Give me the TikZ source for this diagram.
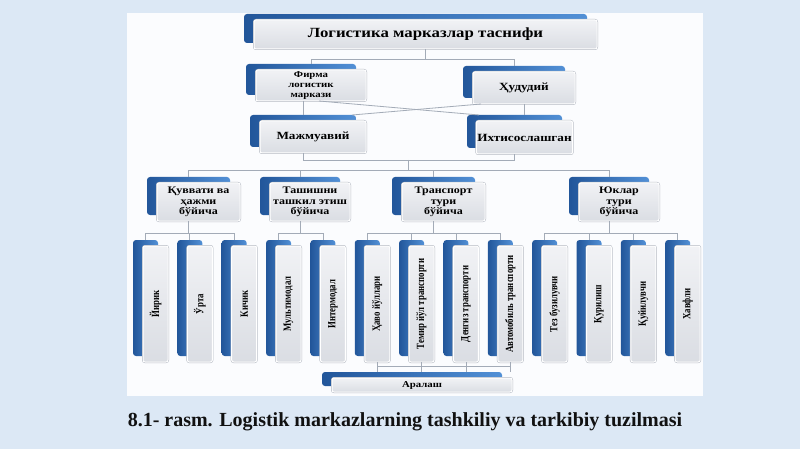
\documentclass[tikz,border=0pt]{standalone}
\usepackage{fontspec}
\setmainfont{Liberation Serif}
\newfontfamily\boxfont[FakeStretch=1.2]{Liberation Serif}
\newfontfamily\vfont[FakeStretch=0.8]{Liberation Serif}
\usetikzlibrary{calc}
\definecolor{pagebg}{HTML}{DCE8F5}
\definecolor{panelc}{HTML}{FBFCFE}
\definecolor{bkdark}{HTML}{22569A}
\definecolor{bklight}{HTML}{5290D6}
\definecolor{frtop}{HTML}{F1F2F5}
\definecolor{frbot}{HTML}{DADDE3}
\definecolor{frline}{HTML}{B4B9C2}
\definecolor{connc}{HTML}{A3ABB7}
\definecolor{captc}{HTML}{111111}
\newcommand\dbox[7]{%
  \node[backbox, minimum width={(#4)-(#2)}, minimum height={(#5)-(#3)}]
    (#1b) at ({((#2)+(#4))/2-10},{((#3)+(#5))/2-6}) {};
  \node[frontbox, #6, minimum width={(#4)-(#2)}, minimum height={(#5)-(#3)}]
    (#1) at ({((#2)+(#4))/2},{((#3)+(#5))/2}) {#7};
}
\begin{document}
\begin{tikzpicture}[x=1pt,y=-1pt,
  backbox/.style={rounded corners=3pt, left color=bkdark, right color=bklight,
    draw=none, inner sep=0pt, outer sep=0pt},
  frontbox/.style={rounded corners=2pt, top color=frtop, bottom color=frbot,
    draw=white, line width=1pt, preaction={draw=frline, line width=2pt},
    inner sep=1pt, outer sep=0pt, align=center, text=black,
    font=\boxfont\bfseries\fontsize{9}{9.6}\selectfont},
  titlet/.style={font=\boxfont\bfseries\fontsize{14}{16}\selectfont},
  midt/.style={font=\boxfont\bfseries\fontsize{11}{12}\selectfont},
  lvl3t/.style={font=\boxfont\bfseries\fontsize{10}{10.5}\selectfont},
  vertt/.style={font=\vfont\bfseries\fontsize{11}{12}\selectfont},
  conn/.style={draw=connc, line width=0.8pt}]
\useasboundingbox (0,0) rectangle (800,449);
\fill[pagebg] (0,0) rectangle (800,449);
\fill[panelc] (127,13) rectangle (703,396);

% level 1
\dbox{top}{254}{20}{597}{49}{titlet}{Логистика марказлар таснифи}
% level 2
\dbox{firma}{256}{70}{366}{101}{}{Фирма\\логистик\\маркази}
\dbox{hud}{473}{72}{575}{104}{midt}{Ҳудудий}
\dbox{mazh}{260}{121}{366}{153}{midt}{Мажмуавий}
\dbox{iht}{477}{121}{572}{154}{midt}{Ихтисослашган}
% level 3
\dbox{kuv}{157}{183}{240}{221}{lvl3t}{Қуввати ва\\ҳажми\\бўйича}
\dbox{tash}{270}{183}{350}{221}{lvl3t}{Ташишни\\ташкил этиш\\бўйича}
\dbox{trans}{402}{183}{485}{221}{lvl3t}{Транспорт\\тури\\бўйича}
\dbox{yuk}{579}{183}{659}{221}{lvl3t}{Юклар\\тури\\бўйича}
% level 4
\foreach \lbl [count=\i from 0] in {Йирик,Ўрта,Кичик,Мультимодал,Интермодал,Ҳаво йўллари,Темир йўл транспорти,Денгиз транспорти,Автомобиль транспорти,Тез бузилувчи,Қурилиш,Қуйилувчи,Хавфли}{
  \pgfmathsetmacro\L{133+44.35*\i}
  \dbox{v\i}{\L+10}{246}{\L+35}{362}{vertt}{\rotatebox{90}{\lbl}}
}
% bottom
\dbox{ar}{332}{378}{512}{392}{}{Аралаш}

% connectors level 1 -> 2
\coordinate (h1) at (0,59);
\draw[conn] (top.south) -- (top.south |- h1);
\draw[conn] (firma.north |- firmab.north) -- (firma.north |- h1)
  -- (hudb.north |- h1) -- (hudb.north);
% level 2 -> mixed
\draw[conn] (mazhb.north |- firma.south) -- (mazhb.north);
\draw[conn] (iht.north |- hud.south) -- (iht.north |- ihtb.north);
\draw[conn] ($(firma.south)+(8,0)$) -- ($(ihtb.north west)+(12,0)$);
\draw[conn] ($(hud.south west)+(8,0)$) -- ($(mazhb.north east)+(-4,0)$);
% mixed -> level 3
\coordinate (h2) at (0,160);
\coordinate (h3) at (0,170);
\draw[conn] (mazhb.north |- mazh.south) -- (mazhb.north |- h2)
  -- (ihtb.north |- h2) -- (ihtb.north |- iht.south);
\coordinate (m2) at ($(mazhb.north |- h2)!0.5!(ihtb.north |- h2)$);
\draw[conn] (m2) -- (m2 |- h3);
\draw[conn] (kuvb.north) -- (kuvb.north |- h3) -- (yukb.north |- h3) -- (yukb.north);
\draw[conn] (tashb.north) -- (tashb.north |- h3);
\draw[conn] (transb.north) -- (transb.north |- h3);
% level 3 -> level 4
\coordinate (h4) at (0,233);
\draw[conn] (kuvb.north |- kuv.south) -- (kuvb.north |- h4);
\draw[conn] (v0b.north) -- (v0b.north |- h4) -- (v2b.north |- h4) -- (v2b.north);
\draw[conn] (v1b.north) -- (v1b.north |- h4);
\draw[conn] (tashb.north |- tash.south) -- (tashb.north |- h4);
\draw[conn] (v3b.north) -- (v3b.north |- h4) -- (v4b.north |- h4) -- (v4b.north);
\draw[conn] (transb.north |- trans.south) -- (transb.north |- h4);
\draw[conn] (v5b.north) -- (v5b.north |- h4) -- (v8b.north |- h4) -- (v8b.north);
\draw[conn] (v6b.north) -- (v6b.north |- h4);
\draw[conn] (v7b.north) -- (v7b.north |- h4);
\draw[conn] (yukb.north |- yuk.south) -- (yukb.north |- h4);
\draw[conn] (v9b.north) -- (v9b.north |- h4) -- (v12b.north |- h4) -- (v12b.north);
\draw[conn] (v10b.north) -- (v10b.north |- h4);
\draw[conn] (v11b.north) -- (v11b.north |- h4);
% transport -> mixed
\coordinate (h5) at (0,366);
\draw[conn] (v5.south |- h5) -- (v8.south |- h5);
\foreach \k in {5,6,7,8}{
  \draw[conn] (v\k.south) -- (v\k.south |- arb.north);
}
% caption
\node[text=captc, font=\bfseries\fontsize{20}{22}\selectfont] (cap) at (405,422)
  {8.1- rasm. Logistik markazlarning tashkiliy va tarkibiy tuzilmasi};
\end{tikzpicture}
\end{document}
